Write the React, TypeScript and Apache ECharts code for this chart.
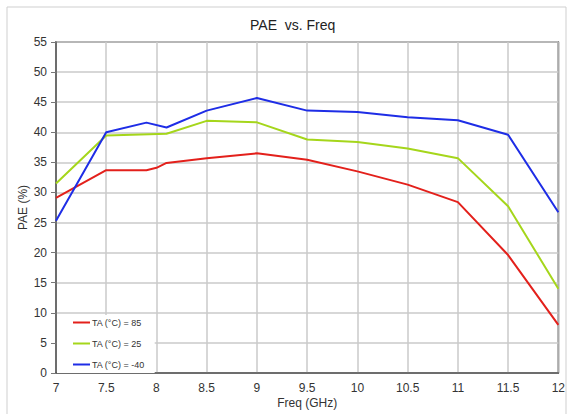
import React, { useEffect, useRef } from "react";
import * as echarts from "echarts";

const title = "PAE  vs. Freq";
const xName = "Freq (GHz)";
const yName = "PAE (%)";
const seriesNames = ["TA (°C) = 85", "TA (°C) = 25", "TA (°C) = -40"];
const colors = ["#e3201b", "#a5d61b", "#1e2de6"];

const freq85 = [7, 7.5, 7.9, 8, 8.1, 8.5, 9, 9.5, 10, 10.5, 11, 11.5, 12];
const pae85 = [29.1, 33.7, 33.7, 34.1, 34.9, 35.7, 36.5, 35.45, 33.5, 31.3, 28.4, 19.6, 8.0];
const freq25 = [7, 7.5, 8.1, 8.5, 9, 9.5, 10, 10.5, 11, 11.5, 12];
const pae25 = [31.5, 39.45, 39.75, 41.9, 41.65, 38.8, 38.4, 37.3, 35.7, 27.7, 14.0];
const freqM40 = [7, 7.5, 7.9, 8.1, 8.5, 9, 9.5, 10, 10.5, 11, 11.5, 12];
const paeM40 = [25.3, 40.0, 41.6, 40.8, 43.6, 45.7, 43.6, 43.35, 42.5, 42.0, 39.6, 26.7];

const xMin = 7, xMax = 12, xInterval = 0.5;
const yMin = 0, yMax = 55, yInterval = 5;

const pairs = (xs: number[], ys: number[]) => xs.map((x, i) => [x, ys[i]]);

export default function App() {
  const ref = useRef<HTMLDivElement>(null);
  useEffect(() => {
    if (!ref.current) return;
    const chart = echarts.init(ref.current, undefined, { renderer: "svg" });
    const font = "'Liberation Sans', Arial, sans-serif";
    const data = [pairs(freq85, pae85), pairs(freq25, pae25), pairs(freqM40, paeM40)];
    chart.setOption({
      animation: false,
      backgroundColor: "#ffffff",
      title: {
        text: title,
        left: 245,
        top: 13,
        textStyle: { fontFamily: font, fontSize: 14, fontWeight: "normal", color: "#222" },
      },
      graphic: [
        {
          type: "rect",
          shape: { x: 7, y: 7, width: 559, height: 420 },
          style: { fill: "none", stroke: "#cfcfcf", lineWidth: 1 },
          silent: true,
          z: -1,
        },
      ],
      grid: {
        left: 56,
        right: 9,
        top: 42,
        bottom: 40,
        show: true,
        borderColor: "#555",
        borderWidth: 1.5,
      },
      legend: {
        orient: "vertical",
        left: 57,
        top: 315,
        padding: [3, 10, 4, 16],
        itemGap: 12,
        itemWidth: 17,
        itemHeight: 2,
        icon: "rect",
        backgroundColor: "#ffffff",
        textStyle: { fontFamily: font, fontSize: 9, color: "#333", padding: [0, 0, 0, -3] },
        data: seriesNames,
      },
      xAxis: {
        type: "value",
        min: xMin,
        max: xMax,
        interval: xInterval,
        name: xName,
        nameLocation: "middle",
        nameGap: 24,
        nameMoveOverlap: false,
        nameTextStyle: { fontFamily: font, fontSize: 12, color: "#333" },
        axisLine: { show: true, lineStyle: { color: "#555", width: 1.5 } },
        axisTick: { show: false },
        axisLabel: { fontFamily: font, fontSize: 12, color: "#333", margin: 9 },
        splitLine: { show: true, lineStyle: { color: "#cacaca", width: 1.5 } },
      },
      yAxis: {
        type: "value",
        min: yMin,
        max: yMax,
        interval: yInterval,
        name: yName,
        nameLocation: "middle",
        nameGap: 27,
        nameMoveOverlap: false,
        nameTextStyle: { fontFamily: font, fontSize: 12, color: "#333" },
        axisLine: { show: true, lineStyle: { color: "#555", width: 1.5 } },
        axisTick: { show: true, inside: false, length: 5, lineStyle: { color: "#777" } },
        axisLabel: { fontFamily: font, fontSize: 12, color: "#333", margin: 9 },
        splitLine: { show: true, lineStyle: { color: "#cacaca", width: 1.5 } },
      },
      series: seriesNames.map((name, i) => ({
        name,
        type: "line",
        data: data[i],
        showSymbol: false,
        symbol: "none",
        lineStyle: { color: colors[i], width: 2 },
        itemStyle: { color: colors[i] },
        z: 3 + i,
      })),
    });
    return () => chart.dispose();
  }, []);
  return <div ref={ref} style={{ position: "fixed", left: 0, top: 0, width: 568, height: 414 }} />;
}
